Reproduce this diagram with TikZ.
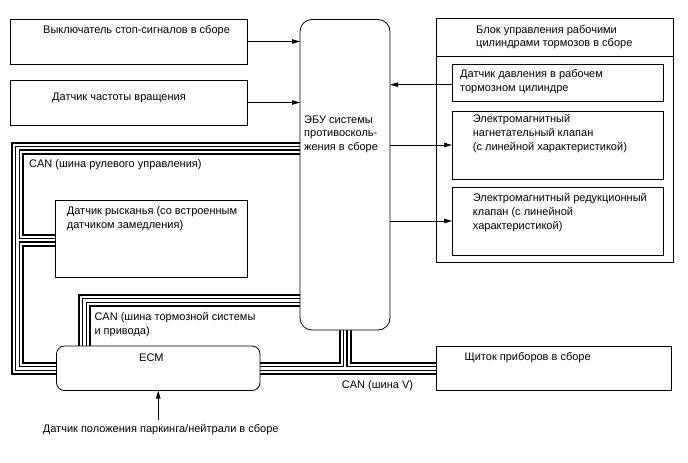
\documentclass[tikz,border=0pt]{standalone}
\usepackage{fontspec}
\setmainfont{Liberation Sans}
\usetikzlibrary{arrows.meta,backgrounds}
\begin{document}
\begin{tikzpicture}[x=1pt,y=-1pt,
  box/.style={draw,line width=0.8pt,fill=white,anchor=north west,inner sep=0pt,outer sep=0pt,rectangle},
  txt/.style={anchor=north west,inner sep=0pt,align=left,font=\fontsize{11}{13.7}\selectfont},
  arr/.style={line width=0.8pt,-{Triangle[length=8pt,width=4.5pt]}},
]
\useasboundingbox (0,0) rectangle (688,463);

% boxes
\node[box,minimum width=237pt,minimum height=45pt] (sw) at (10,19) {};
\node[box,minimum width=237pt,minimum height=45pt] (spd) at (10,80) {};
\node[box,rounded corners=12pt,minimum width=90pt,minimum height=310.5pt] (ecu) at (300,19.5) {};
\node[box,minimum width=236.5pt,minimum height=243.5pt] (blk) at (436.5,18.5) {};
\node[box,minimum width=211pt,minimum height=37pt] (psens) at (452,64) {};
\node[box,minimum width=211pt,minimum height=68pt] (val1) at (452,111) {};
\node[box,minimum width=211pt,minimum height=68pt] (val2) at (452,187) {};
\node[box,minimum width=192pt,minimum height=77pt] (yaw) at (55,200) {};
\node[box,rounded corners=8pt,minimum width=203.5pt,minimum height=44.5pt] (ecm) at (56.5,346) {};
\node[box,minimum width=235pt,minimum height=44pt] (clu) at (436.5,346) {};

\path (blk.north west) ++(0,37.5) coordinate (hdl);
\draw[line width=0.8pt] (hdl) -- (hdl -| blk.east);

% texts
\node[txt] (tsw) at (43,24.9) {Выключатель стоп-сигналов в сборе};
\node[txt] (tspd) at (52,92.4) {Датчик частоты вращения};
\node[txt] (tecu) at (304,115.2) {ЭБУ системы\\противосколь-\\жения в сборе};
\node[txt] (tblk) at (476,24.9) {Блок управления рабочими\\цилиндрами тормозов в сборе};
\node[txt] (tps) at (460,69.2) {Датчик давления в рабочем\\тормозном цилиндре};
\node[txt] (tv1) at (472.7,114.6) {Электромагнитный\\нагнетательный клапан\\(с линейной характеристикой)};
\node[txt] (tv2) at (472.7,193.6) {Электромагнитный редукционный\\клапан (с линейной\\характеристикой)};
\node[txt] (tcan1) at (29,159.2) {CAN (шина рулевого управления)};
\node[txt] (tyaw) at (66.7,206.2) {Датчик рысканья (со встроенным\\датчиком замедления)};
\node[txt] (tcan2) at (94.3,312.6) {CAN (шина тормозной системы\\и привода)};
\node[txt] (tecm) at (139,353.6) {ECM};
\node[txt] (tclu) at (464.3,352.6) {Щиток приборов в сборе};
\node[txt] (tcanv) at (341.7,380) {CAN (шина V)};
\node[txt] (park) at (42.7,424.6) {Датчик положения паркинга/нейтрали в сборе};

% arrows
\draw[arr] (sw.east) -- (sw.east -| ecu.west);
\draw[arr] (spd.east) -- (spd.east -| ecu.west);
\draw[arr] ([yshift=-2.2pt]psens.west) -- ([yshift=-2.2pt]psens.west -| ecu.east);
\draw[arr] (val1.west -| ecu.east) -- (val1.west);
\draw[arr] (val2.west -| ecu.east) -- (val2.west);
\coordinate (pk) at (158.25,420);
\draw[arr] (pk) -- (ecm.south);

% CAN buses
\coordinate (s1) at (17.5,148);
\coordinate (s2) at (17.5,368.25);
\coordinate (s3) at (17.5,240);
\coordinate (b1) at (84.5,300.5);
\coordinate (v1) at (345,368.25);
\begin{scope}[on background layer]
\fill[white] (0,0) rectangle (688,463);
\foreach \lw/\lc in {13pt/black,9pt/white,5pt/black,2.6pt/white}{
  \draw[line width=\lw,color=\lc,line join=miter]
    (s1 -| ecu.west) -- (s1) -- (s2) -- (s2 -| ecm.west)
    (s3) -- (s3 -| yaw.west);
  \draw[line width=\lw,color=\lc,line join=miter]
    (b1 -| ecu.west) -- (b1) -- (b1 |- ecm.north);
  \draw[line width=\lw,color=\lc,line join=miter]
    (ecm.east) -- (ecm.east -| clu.west)
    (v1) -- (v1 |- ecu.south);
}
\end{scope}
\end{tikzpicture}
\end{document}
